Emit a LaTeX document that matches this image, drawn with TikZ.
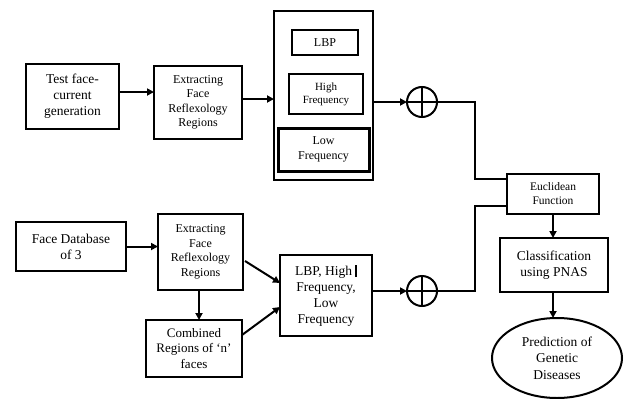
\documentclass[tikz,border=0pt]{standalone}
\usepackage{fontspec}
\setmainfont{Liberation Serif}
\usetikzlibrary{shapes.geometric,arrows.meta}
\begin{document}
\begin{tikzpicture}[x=1pt,y=-1pt,
  box/.style={draw,line width=2pt,align=center,inner sep=1pt,outer sep=0pt},
  conn/.style={line width=2pt},
  arr/.style={conn,-{Triangle[length=7pt,width=7pt]}},
  plus/.style={draw,circle,line width=2pt,minimum size=30pt,inner sep=0pt,outer sep=0pt},
  fA/.style={font=\fontsize{13.5}{16}\selectfont},
  fB/.style={font=\fontsize{12}{14.5}\selectfont},
  fC/.style={font=\fontsize{11}{13}\selectfont}]
\useasboundingbox (0,0) rectangle (627,399);
% top row
\node[box,fA,minimum width=93pt,minimum height=65pt] (test) at (72.5,96.5) {Test face-\\current\\generation};
\node[box,fB,minimum width=88pt,minimum height=73pt] (ext1) at (198,102.5) {Extracting\\Face\\Reflexology\\Regions};
\node[box,line width=1.8pt,minimum width=99pt,minimum height=169pt] (big) at (323.5,95.5) {};
\node[box,fB,minimum width=66pt,minimum height=25pt] (lbp) at (325,42.5) {LBP};
\node[box,fC,minimum width=74pt,minimum height=40pt] (high) at (326,94) {High\\Frequency};
\node[box,fB,line width=3pt,minimum width=91pt,minimum height=43pt] (low) at (323.5,149.5) {Low\\Frequency};
\node[plus] (p1) at (422,102) {};
\draw[conn] (p1.north) -- (p1.south) (p1.west) -- (p1.east);
% right column
\node[box,font=\fontsize{11.5}{14}\selectfont,minimum width=92pt,minimum height=40pt] (eucl) at (553,194) {Euclidean\\Function};
\node[box,fA,minimum width=108pt,minimum height=54pt] (cls) at (554,265) {Classification\\using PNAS};
\node[draw,ellipse,line width=2pt,align=center,inner sep=0pt,outer sep=0pt,minimum width=130pt,minimum height=80pt,font=\fontsize{13.5}{16.5}\selectfont] (pred) at (557,358) {Prediction of\\Genetic\\Diseases};
% bottom row
\node[box,fA,minimum width=110pt,minimum height=49pt] (fdb) at (71,246.5) {Face Database\\of 3};
\node[box,fB,minimum width=85pt,minimum height=76pt] (ext2) at (200.5,252) {Extracting\\Face\\Reflexology\\Regions};
\node[box,font=\fontsize{13}{15.5}\selectfont,minimum width=96pt,minimum height=57pt] (comb) at (194,348.5) {Combined\\Regions of `n'\\faces};
\node[box,fA,minimum width=92pt,minimum height=81pt] (lbph) at (326,295.5) {LBP, High \rule[-2pt]{1.6pt}{12pt}\\Frequency,\\Low\\Frequency};
\node[plus] (p2) at (422,291) {};
\draw[conn] (p2.north) -- (p2.south) (p2.west) -- (p2.east);
% connectors
\coordinate (j1) at (475,179);
\coordinate (j2) at (475,206);
\draw[arr] ([yshift=4.5pt]test.east) -- ([yshift=10.5pt]ext1.west);
\draw[arr] ([yshift=3.5pt]ext1.east) -- ([yshift=-3.5pt]big.west);
\draw[arr] (big.east |- p1.west) -- (p1.west);
\draw[conn] (p1.east) -| (j1) -- ([yshift=15pt]eucl.west);
\draw[conn] (p2.east) -| (j2) -- ([yshift=-12pt]eucl.west);
\draw[arr] (eucl.south) -- (eucl.south |- cls.north);
\draw[arr] ([xshift=-1pt]cls.south) -- ([xshift=-4pt]pred.north);
\draw[arr] (fdb.east) -- (ext2.west |- fdb.east);
\draw[arr] ([xshift=-1.5pt]ext2.south) -- ([xshift=5pt]comb.north);
\draw[arr] ([xshift=2pt,yshift=-9pt]ext2.east) -- ([yshift=12.5pt]lbph.west);
\draw[arr] ([yshift=13.5pt]comb.east) -- ([yshift=-11.5pt]lbph.west);
\draw[arr] (lbph.east |- p2.west) -- (p2.west);
\end{tikzpicture}
\end{document}
